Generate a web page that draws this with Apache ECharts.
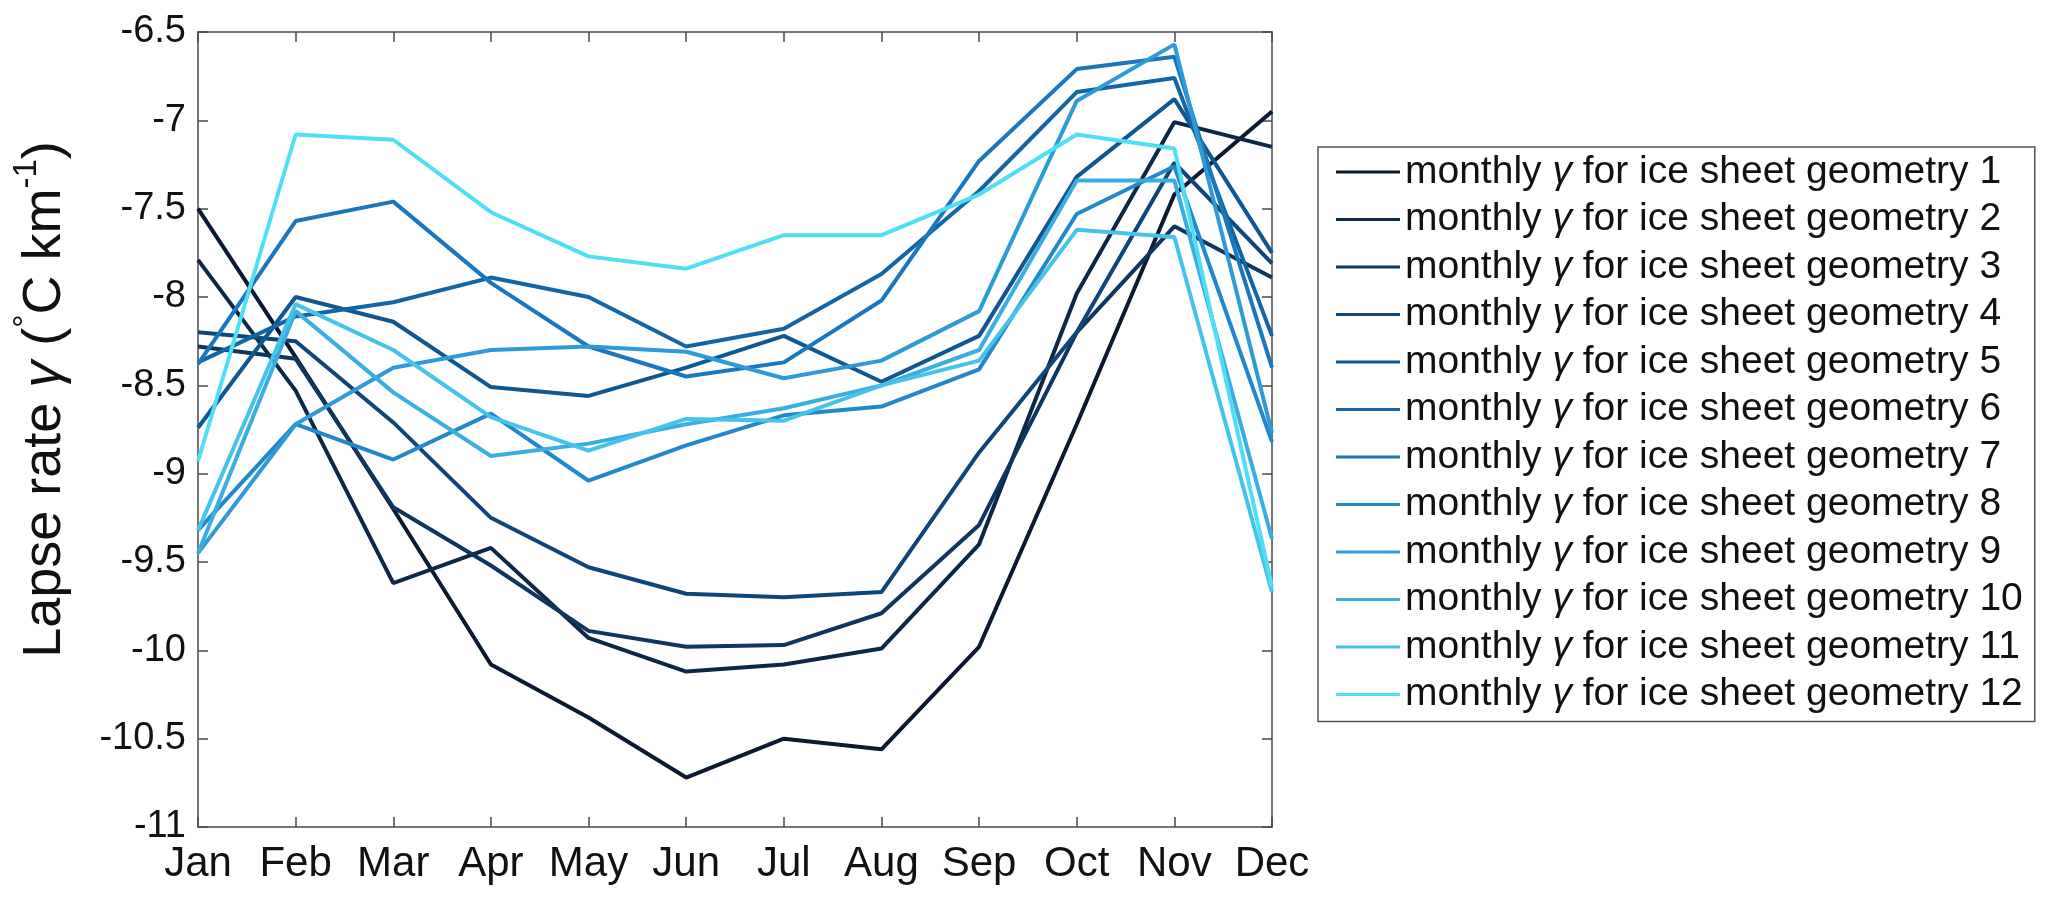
<!DOCTYPE html>
<html>
<head>
<meta charset="utf-8">
<script src="https://cdn.jsdelivr.net/npm/echarts@6/dist/echarts.min.js"></script>
<style>
html,body{margin:0;padding:0;background:#fff;}
#c{width:2067px;height:911px;}
</style>
</head>
<body>
<div id="c"></div>
<script>
const months = ['Jan','Feb','Mar','Apr','May','Jun','Jul','Aug','Sep','Oct','Nov','Dec'];
const yTicks = [-11, -6.5, 0.5]; // min, max, interval

const g1  = [-7.50, -8.34, -9.20, -10.08, -10.38, -10.72, -10.50, -10.56, -9.98, -8.72, -7.42, -6.95];
const g2  = [-7.79, -8.53, -9.62, -9.42, -9.93, -10.12, -10.08, -9.99, -9.40, -7.98, -7.01, -7.15];
const g3  = [-8.28, -8.35, -9.19, -9.52, -9.89, -9.98, -9.97, -9.79, -9.29, -8.20, -7.60, -7.89];
const g4  = [-8.20, -8.25, -8.71, -9.25, -9.53, -9.68, -9.70, -9.67, -8.88, -8.20, -7.24, -7.81];
const g5  = [-8.74, -8.00, -8.14, -8.51, -8.56, -8.40, -8.22, -8.48, -8.22, -7.32, -6.88, -7.75];
const g6  = [-8.37, -8.11, -8.03, -7.89, -8.00, -8.28, -8.18, -7.87, -7.40, -6.84, -6.76, -8.22];
const g7  = [-8.38, -7.57, -7.46, -7.92, -8.28, -8.45, -8.37, -8.02, -7.23, -6.71, -6.64, -8.40];
const g8  = [-9.32, -8.72, -8.92, -8.66, -9.04, -8.84, -8.67, -8.62, -8.41, -7.53, -7.26, -8.82];
const g9  = [-9.45, -8.72, -8.40, -8.30, -8.28, -8.31, -8.46, -8.36, -8.08, -6.89, -6.57, -8.77];
const g10 = [-9.45, -8.08, -8.54, -8.90, -8.83, -8.72, -8.63, -8.50, -8.30, -7.34, -7.34, -9.37];
const g11 = [-9.32, -8.04, -8.30, -8.68, -8.87, -8.69, -8.70, -8.50, -8.36, -7.62, -7.66, -9.67];
const g12 = [-8.93, -7.08, -7.11, -7.52, -7.77, -7.84, -7.65, -7.65, -7.42, -7.08, -7.16, -9.64];

const allSeries = [g1,g2,g3,g4,g5,g6,g7,g8,g9,g10,g11,g12];
const colors = ['#0b1a2f','#0c2846','#0e365e','#0f4679','#105691','#1465a6',
                '#1a77bd','#2388cb','#2e9ad7','#3aade1','#46c3eb','#50def4'];

const FONT = "'Liberation Sans', Arial, Helvetica, sans-serif";
const axisColor = '#4a4a4a';

const chart = echarts.init(document.getElementById('c'), null, {renderer:'canvas'});

const series = allSeries.map((d, i) => ({
  name: 'monthly γ for ice sheet geometry ' + (i + 1),
  type: 'line',
  data: d,
  symbol: 'none',
  smooth: false,
  lineStyle: {width: 4, color: colors[i]},
  itemStyle: {color: colors[i]},
  z: 2
}));

const commonY = {
  type: 'value', min: yTicks[0], max: yTicks[1], interval: yTicks[2],
  splitLine: {show: false},
  axisLine: {show: true, onZero: false, lineStyle: {color: axisColor, width: 1.5}},
  axisTick: {show: true, inside: true, length: 10, lineStyle: {color: axisColor, width: 1.5}}
};
const commonX = {
  type: 'category', data: months, boundaryGap: false,
  splitLine: {show: false},
  axisLine: {show: true, onZero: false, lineStyle: {color: axisColor, width: 1.5}},
  axisTick: {show: true, inside: true, length: 10, interval: 0, lineStyle: {color: axisColor, width: 1.5}}
};

chart.setOption({
  backgroundColor: '#ffffff',
  animation: false,
  textStyle: {fontFamily: FONT},
  grid: {left: 198, right: 795, top: 32, bottom: 84, containLabel: false},
  xAxis: [
    Object.assign({}, commonX, {
      position: 'bottom',
      axisLabel: {show: true, interval: 0, color: '#111', fontSize: 42, fontFamily: FONT, margin: 16}
    }),
    Object.assign({}, commonX, {
      position: 'top',
      axisLabel: {show: false}
    })
  ],
  yAxis: [
    Object.assign({}, commonY, {
      position: 'left',
      axisLabel: {show: true, color: '#111', fontSize: 38, fontFamily: FONT, margin: 12},
      name: '{a|Lapse rate }{g|γ}{a| (}{s|°}{a|C km}{s|-1}{a|)}',
      nameLocation: 'middle',
      nameGap: 126,
      nameRotate: 90,
      nameTextStyle: {
        color: '#111',
        fontFamily: FONT,
        padding: [0, 0, 0, 60],
        rich: {
          a: {fontSize: 54, fontFamily: FONT, color: '#111', lineHeight: 62, verticalAlign: 'bottom'},
          g: {fontSize: 54, fontFamily: FONT, fontStyle: 'italic', color: '#111', lineHeight: 62, verticalAlign: 'bottom'},
          s: {fontSize: 33, fontFamily: FONT, color: '#111', lineHeight: 62, verticalAlign: 'top'}
        }
      }
    }),
    Object.assign({}, commonY, {
      position: 'right',
      axisLabel: {show: false}
    })
  ],
  legend: {
    show: true,
    orient: 'vertical',
    left: 1318,
    top: 147,
    padding: [3, 12, 5, 18],
    itemGap: 3.5,
    itemWidth: 64,
    itemHeight: 14,
    borderColor: '#555',
    borderWidth: 1.5,
    backgroundColor: '#fff',
    icon: 'path://M0,5.5 L64,5.5 L64,8.5 L0,8.5 Z',
    formatter: function (name) {
      return name.replace('γ', '{g|γ}');
    },
    textStyle: {
      fontSize: 39, fontFamily: FONT, color: '#111', lineHeight: 44, padding: [0, 0, 0, 0],
      rich: {
        g: {fontSize: 39, fontFamily: FONT, fontStyle: 'italic', color: '#111', lineHeight: 44}
      }
    },
    data: series.map(s => s.name)
  },
  series: series
});
</script>
</body>
</html>
